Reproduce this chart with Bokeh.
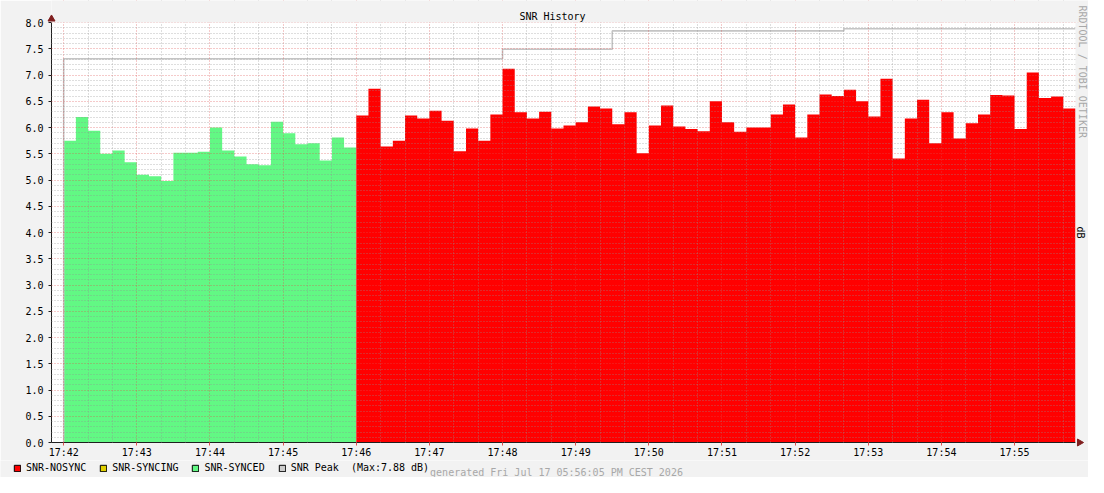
import math
from bokeh.plotting import figure
from bokeh.layouts import column
from bokeh.models import (Range1d, FixedTicker, Label, Legend, LegendItem,
                          ColumnDataSource)
from bokeh.embed import file_html
from bokeh.resources import INLINE

# ---------------- data ----------------
step_seconds = 10
x_tick_labels = ["17:42", "17:43", "17:44", "17:45", "17:46", "17:47", "17:48",
                 "17:49", "17:50", "17:51", "17:52", "17:53", "17:54", "17:55"]
y_tick_labels = ["0.0", "0.5", "1.0", "1.5", "2.0", "2.5", "3.0", "3.5",
                 "4.0", "4.5", "5.0", "5.5", "6.0", "6.5", "7.0", "7.5", "8.0"]

snr_synced = [5.75, 6.20, 5.94, 5.50, 5.56, 5.34, 5.10, 5.07, 4.98, 5.52, 5.52, 5.54,
              6.00, 5.56, 5.45, 5.30, 5.28, 6.11, 5.89, 5.68, 5.70, 5.37, 5.81, 5.62]
snr_nosync = [6.23, 6.74, 5.64, 5.75, 6.23, 6.17, 6.32, 6.13, 5.55, 5.98, 5.75, 6.25,
              7.12, 6.29, 6.17, 6.30, 5.98, 6.04, 6.10, 6.40, 6.36, 6.06, 6.29, 5.51,
              6.04, 6.42, 6.02, 5.97, 5.93, 6.50, 6.10, 5.92, 6.00, 6.00, 6.25, 6.44,
              5.81, 6.25, 6.63, 6.60, 6.72, 6.50, 6.21, 6.93, 5.41, 6.17, 6.53, 5.70,
              6.29, 5.79, 6.08, 6.25, 6.62, 6.61, 5.97, 7.05, 6.56, 6.59, 6.36]
# SNR peak: seconds after 17:42:00 where the level changes, and the levels
peak_change_seconds = [0, 360, 450, 640, 830]
peak_levels = [7.31, 7.49, 7.84, 7.88]

title_text = "SNR History"
footer_text = "generated Fri Jul 17 05:56:05 PM CEST 2026"
side_text = "RRDTOOL / TOBI OETIKER"
unit_text = "dB"
legend_labels = ["SNR-NOSYNC", "SNR-SYNCING", "SNR-SYNCED",
                 "SNR Peak\u00a0\u00a0(Max:7.88 dB)"]
legend_colors = ["#ff0000", "#e0d000", "#62f884", "#cccccc"]

# ---------------- layout constants ----------------
FONT = "DejaVu Sans Mono"
AXIS = "#1f1f1f"
ARROW = "#801f1f"
BACK = "#f2f2f2"
W = 1088
MAIN_H = 460
LEG_H = 17
LEFT = 51          # frame left
BOTTOM = 18        # space under frame for x labels
PLOT_W = 1024      # width of the data canvas in px
PLOT_H = 420       # height of the data canvas in px
x0, x1 = -10, 830  # data window (seconds after 17:42:00)
y0, y1 = 0, 8

px_per_s = PLOT_W / (x1 - x0)
px_per_u = PLOT_H / (y1 - y0)
frame_w = W - LEFT
frame_h = MAIN_H - BOTTOM
x_end = x0 + frame_w / px_per_s
y_end = y0 + frame_h / px_per_u


def step_xy(start, values):
    xs, ys = [], []
    for i, v in enumerate(values):
        t0 = start + i * step_seconds
        xs += [t0, t0 + step_seconds]
        ys += [v, v]
    return xs, ys


p = figure(width=W, height=MAIN_H, output_backend="svg", toolbar_location=None,
           x_range=Range1d(x0, x_end), y_range=Range1d(y0, y_end),
           min_border_left=LEFT, min_border_right=0, min_border_top=0,
           min_border_bottom=BOTTOM)
p.frame_align = False
p.background_fill_color = "#ffffff"
p.border_fill_color = BACK
p.outline_line_color = None

# areas
gx, gy = step_xy(0, snr_synced)
rx, ry = step_xy(len(snr_synced) * step_seconds, snr_nosync)
p.varea(x=gx, y1=[0] * len(gx), y2=gy, fill_color="#62f884")
p.varea(x=rx, y1=[0] * len(rx), y2=ry, fill_color="#ff0000")

# peak line
px, py = [peak_change_seconds[0]], [0]
for i, lv in enumerate(peak_levels):
    px += [peak_change_seconds[i], peak_change_seconds[i + 1]]
    py += [lv, lv]
p.line(px, py, line_color="#c4c4c4", line_width=1.6)

# axes
maj_x = [i * 60 for i in range(len(x_tick_labels))]
min_x = [t for t in range(0, x1 + 1, 20) if t % 60 != 0]
p.xaxis.ticker = FixedTicker(ticks=maj_x, minor_ticks=min_x)
p.xaxis.major_label_overrides = {t: lab for t, lab in zip(maj_x, x_tick_labels)}
maj_y = [i * 0.5 for i in range(len(y_tick_labels))]
min_y = [round(i * 0.1, 1) for i in range(81) if i % 5 != 0]
p.yaxis.ticker = FixedTicker(ticks=maj_y, minor_ticks=min_y)
p.yaxis.major_label_overrides = {t: lab for t, lab in zip(maj_y, y_tick_labels)}
p.xaxis.bounds = (x0, x1)
p.yaxis.bounds = (y0, y1)

for ax in (p.xaxis[0], p.yaxis[0]):
    ax.axis_line_color = AXIS
    ax.axis_line_width = 1
    ax.major_tick_in = 0
    ax.minor_tick_in = 0
    ax.minor_tick_out = 0
    ax.major_label_text_font = FONT
    ax.major_label_text_font_size = "10px"
    ax.major_label_text_color = "#000000"
p.xaxis.major_tick_out = 3
p.xaxis.major_tick_line_color = "#de4f4f"
p.xaxis.major_label_standoff = 1
p.yaxis.major_tick_out = 3
p.yaxis.major_tick_line_color = AXIS
p.yaxis.major_label_standoff = 5

# grids on top of data
for g in (p.xgrid[0], p.ygrid[0]):
    g.level = "annotation"
    g.grid_line_color = "#de4f4f"
    g.grid_line_alpha = 0.6
    g.grid_line_dash = "1 2"
    g.minor_grid_line_color = "#8f8f8f"
    g.minor_grid_line_alpha = 0.6
    g.minor_grid_line_dash = "1 2"

# background strips outside the data canvas (top and right), drawn above the grid
p.quad(left=[x0, x1], right=[x_end, x_end], bottom=[y1, y0], top=[y_end, y1],
       fill_color=BACK, line_color=None, level="overlay")

# axis arrow heads
p.scatter(x=[x0], y=[y1 + 3.5 / px_per_u], marker="triangle", size=7,
          fill_color=ARROW, line_color=ARROW, level="overlay")
p.scatter(x=[x1 + 4 / px_per_s], y=[y0], marker="triangle", angle=-math.pi / 2,
          size=7, fill_color=ARROW, line_color=ARROW, level="overlay")

# texts
def lbl(**kw):
    base = dict(x_units="screen", y_units="screen", text_font=FONT,
                text_font_size="10px", text_baseline="middle", level="overlay")
    base.update(kw)
    p.add_layout(Label(**base))

lbl(x=552 - LEFT, y=frame_h - 16, text=title_text, text_align="center",
    text_color="#000000")
lbl(x=1082 - LEFT, y=frame_h - 5, text=side_text, angle=-math.pi / 2,
    text_align="left", text_color="#a8a8a8")
lbl(x=1080 - LEFT, y=frame_h - 232, text=unit_text, angle=-math.pi / 2,
    text_align="center", text_color="#000000")

# ---------------- legend + footer strip ----------------
q = figure(width=W, height=LEG_H, output_backend="svg", toolbar_location=None,
           x_range=Range1d(0, W), y_range=Range1d(0, LEG_H),
           x_axis_type=None, y_axis_type=None,
           min_border_left=0, min_border_right=0, min_border_top=0,
           min_border_bottom=0)
q.frame_align = False
q.background_fill_color = BACK
q.border_fill_color = BACK
q.outline_line_color = None
q.grid.visible = False

# legend proxies: one sample each, placed left of the visible strip
items = []
for c, lab in zip(legend_colors, legend_labels):
    src = ColumnDataSource(dict(left=[-20], right=[-10], top=[1], bottom=[0]))
    r = q.quad(source=src, left="left", right="right", top="top", bottom="bottom",
               fill_color=c, line_color="#000000", line_width=1)
    items.append(LegendItem(label=lab, renderers=[r]))
legend = Legend(items=items, location=(13, 4), orientation="horizontal",
                glyph_width=8, glyph_height=8, label_standoff=5, spacing=13,
                padding=0, margin=0, label_height=8,
                label_text_font=FONT, label_text_font_size="10px",
                label_text_color="#000000", border_line_alpha=0,
                background_fill_alpha=0)
q.add_layout(legend)
q.add_layout(Label(x=556, y=5.5, x_units="screen", y_units="screen", text=footer_text,
                   text_align="center", text_baseline="middle", text_font=FONT,
                   text_font_size="10px", text_color="#a8a8a8"))

layout = column(p, q, spacing=0)
open("out.html", "w").write(file_html(layout, INLINE))
